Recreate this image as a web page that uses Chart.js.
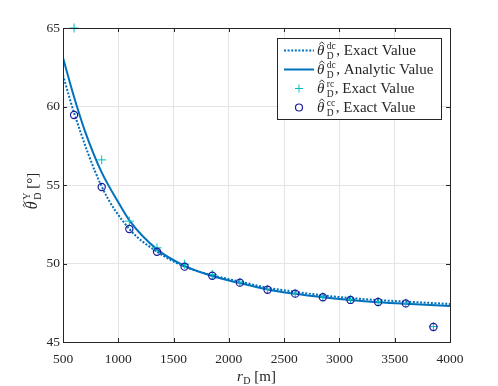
<!DOCTYPE html>
<html><head><meta charset="utf-8">
<script src="https://cdn.jsdelivr.net/npm/chart.js@4"></script>
<style>html,body{margin:0;padding:0;background:#fff}#wrap{width:498px;height:386px}</style>
</head><body><div id="wrap"><canvas id="c" width="498" height="386"></canvas></div>
<script>
// ---- data ----
const xTicks = [500, 1000, 1500, 2000, 2500, 3000, 3500, 4000];
const yTicks = [45, 50, 55, 60, 65];
const rD = [600, 850, 1100, 1350, 1600, 1850, 2100, 2350, 2600, 2850, 3100, 3350, 3600, 3850];
const ccExact = [59.46, 54.87, 52.2, 50.75, 49.8, 49.22, 48.78, 48.33, 48.08, 47.85, 47.68, 47.55, 47.46, 45.96];
const rcExact = [65.0, 56.6, 52.7, 51.0, 49.95, 49.3, 48.8, 48.36, 48.1, 47.87, 47.7, 47.56, 47.47, 45.98];
const dcExactX = [500, 600, 850, 1100, 1350, 1600, 1850, 2100, 2350, 2600, 2850, 3100, 3350, 3600, 3850, 4000];
const dcExactY = [62.0, 59.6, 54.9, 52.2, 50.75, 49.8, 49.25, 48.85, 48.45, 48.2, 47.97, 47.8, 47.67, 47.57, 47.48, 47.42];
const dcAnaX = [500, 600, 700, 850, 1000, 1100, 1350, 1600, 1850, 2100, 2350, 2600, 2850, 3100, 3350, 3600, 4000];
const dcAnaY = [63.1, 60.6, 58.4, 55.8, 53.9, 52.75, 50.9, 49.85, 49.2, 48.75, 48.35, 48.07, 47.85, 47.67, 47.53, 47.43, 47.3];
const legendNames = ['Exact Value', 'Analytic Value', 'Exact Value', 'Exact Value'];
const legendSup = ['dc', 'dc', 'rc', 'cc'];

const pts = (xs, ys) => xs.map((x, i) => ({x, y: ys[i]}));
const SERIF = '"Liberation Serif", "DejaVu Serif", serif';
const BLUE = '#0072BD';
const INK = '#262626';

// runs: {t, font, dy, gap, accent:'hat'|'tilde', accentDy} or {stack, sup, sub, font, supDy, subDy, gap}
function drawRuns(ctx, runs, x, y, align) {
  let w = 0;
  const ws = runs.map(r => {
    ctx.font = r.font;
    let rw = r.stack ? Math.max(ctx.measureText(r.sup).width, ctx.measureText(r.sub).width)
                     : ctx.measureText(r.t).width;
    rw += (r.gap || 0);
    w += rw; return rw;
  });
  let cx = align === 'center' ? x - w / 2 : x;
  ctx.textBaseline = 'alphabetic'; ctx.textAlign = 'left';
  runs.forEach((r, i) => {
    ctx.font = r.font;
    if (r.stack) {
      ctx.fillText(r.sup, cx, y + r.supDy);
      ctx.fillText(r.sub, cx, y + r.subDy);
    } else {
      ctx.fillText(r.t, cx, y + (r.dy || 0));
      if (r.accent) {
        const tw = ctx.measureText(r.t).width;
        const ax = cx + tw / 2 + 1.2, ay = y + r.accentDy;
        ctx.save();
        ctx.strokeStyle = ctx.fillStyle; ctx.lineWidth = 0.9;
        ctx.beginPath();
        if (r.accent === 'hat') {
          ctx.moveTo(ax - 2.6, ay + 1.8); ctx.lineTo(ax, ay - 0.6); ctx.lineTo(ax + 2.6, ay + 1.8);
        } else {
          ctx.moveTo(ax - 3, ay + 0.8);
          ctx.bezierCurveTo(ax - 1.8, ay - 1.4, ax - 0.6, ay - 0.6, ax, ay);
          ctx.bezierCurveTo(ax + 0.6, ay + 0.6, ax + 1.8, ay + 1.4, ax + 3, ay - 0.8);
        }
        ctx.stroke();
        ctx.restore();
      }
    }
    cx += ws[i];
  });
}

const customPlugin = {
  id: 'custom',
  afterDraw(chart) {
    const ctx = chart.ctx;
    const a = chart.chartArea;
    const xs = chart.scales.x, ys = chart.scales.y;
    ctx.save();
    // box
    ctx.strokeStyle = INK; ctx.lineWidth = 1;
    ctx.strokeRect(Math.round(a.left) + 0.5, Math.round(a.top) + 0.5, Math.round(a.right - a.left), Math.round(a.bottom - a.top));
    // inward ticks
    ctx.beginPath();
    xTicks.forEach(v => {
      const px = Math.round(xs.getPixelForValue(v)) + 0.5;
      ctx.moveTo(px, a.bottom); ctx.lineTo(px, a.bottom - 4);
      ctx.moveTo(px, a.top); ctx.lineTo(px, a.top + 4);
    });
    yTicks.forEach(v => {
      const py = Math.round(ys.getPixelForValue(v)) + 0.5;
      ctx.moveTo(a.left, py); ctx.lineTo(a.left + 4, py);
      ctx.moveTo(a.right, py); ctx.lineTo(a.right - 4, py);
    });
    ctx.stroke();

    ctx.fillStyle = INK;
    // x title
    drawRuns(ctx, [
      {t: 'r', font: 'italic 15px ' + SERIF, gap: 0.5},
      {t: 'D', font: '10px ' + SERIF, dy: 3},
      {t: ' [m]', font: '15px ' + SERIF}
    ], (a.left + a.right) / 2, 381, 'center');

    // y title
    ctx.save();
    ctx.translate(37, 191);
    ctx.rotate(-Math.PI / 2);
    drawRuns(ctx, [
      {t: 'θ', font: 'italic 16px ' + SERIF, gap: 1.5, accent: 'tilde', accentDy: -13},
      {stack: true, sup: 'Y', sub: 'D', font: '10px ' + SERIF, supDy: -7, subDy: 4},
      {t: ' [\u00B0]', font: '15px ' + SERIF}
    ], 0, 0, 'center');
    ctx.restore();

    // legend
    const lx = 277.5, ly = 38.5, lw = 164, lh = 81;
    ctx.fillStyle = '#fff';
    ctx.fillRect(lx, ly, lw, lh);
    ctx.strokeStyle = INK; ctx.lineWidth = 1;
    ctx.strokeRect(lx, ly, lw, lh);
    const rows = [50.5, 69.5, 88.5, 107.5];
    chart.data.datasets.forEach((ds, i) => {
      const ry = rows[i];
      ctx.save();
      if (i === 0 || i === 1) {
        ctx.strokeStyle = ds.borderColor; ctx.lineWidth = ds.borderWidth;
        ctx.setLineDash(ds.borderDash || []);
        ctx.beginPath(); ctx.moveTo(284, ry); ctx.lineTo(314, ry); ctx.stroke();
      } else if (i === 2) {
        ctx.strokeStyle = ds.borderColor; ctx.lineWidth = 1;
        ctx.beginPath(); ctx.moveTo(295, ry); ctx.lineTo(303, ry); ctx.moveTo(299, ry - 4); ctx.lineTo(299, ry + 4); ctx.stroke();
      } else {
        ctx.strokeStyle = ds.borderColor; ctx.lineWidth = 1.2;
        ctx.beginPath(); ctx.arc(299, ry, 3.5, 0, Math.PI * 2); ctx.stroke();
      }
      ctx.restore();
      ctx.fillStyle = INK;
      drawRuns(ctx, [
        {t: 'θ', font: 'italic 15px ' + SERIF, gap: 2.5, accent: 'hat', accentDy: -12.5},
        {stack: true, sup: legendSup[i], sub: 'D', font: '9.5px ' + SERIF, supDy: -6, subDy: 3.5, gap: 0.5},
        {t: ', ' + legendNames[i], font: '15px ' + SERIF}
      ], 317, ry + 4.5, 'left');
    });
    ctx.restore();
  }
};

new Chart(document.getElementById('c'), {
  type: 'line',
  data: {
    datasets: [
      {label: 'dc exact', data: pts(dcExactX, dcExactY), borderColor: BLUE, backgroundColor: BLUE,
       borderWidth: 2, borderDash: [2, 1.6], pointRadius: 0, cubicInterpolationMode: 'monotone', order: 4},
      {label: 'dc analytic', data: pts(dcAnaX, dcAnaY), borderColor: BLUE, backgroundColor: BLUE,
       borderWidth: 2, pointRadius: 0, cubicInterpolationMode: 'monotone', order: 3},
      {label: 'rc exact', data: pts(rD, rcExact), borderColor: '#00BFBF', backgroundColor: '#00BFBF',
       showLine: false, pointStyle: 'cross', pointRadius: 4.5, pointBorderWidth: 1, clip: false, order: 2},
      {label: 'cc exact', data: pts(rD, ccExact), borderColor: '#1A1A9A', backgroundColor: 'rgba(0,0,0,0)',
       showLine: false, pointStyle: 'circle', pointRadius: 3.6, pointBorderWidth: 1.2, clip: false, order: 1}
    ]
  },
  options: {
    responsive: false, animation: false, devicePixelRatio: 1,
    layout: {padding: {top: 28, right: 48, left: 0, bottom: 0}},
    plugins: {legend: {display: false}, tooltip: {enabled: false}},
    scales: {
      x: {type: 'linear', min: 500, max: 4000,
        afterBuildTicks: s => { s.ticks = xTicks.map(v => ({value: v})); },
        afterFit: s => { s.height = 44; },
        grid: {color: '#e4e4e4', drawTicks: false}, border: {display: false},
        ticks: {padding: 9, color: INK, font: {family: SERIF, size: 13.5}, maxRotation: 0, autoSkip: false,
                callback: v => String(v)}},
      y: {type: 'linear', min: 45, max: 65,
        afterBuildTicks: s => { s.ticks = yTicks.map(v => ({value: v})); },
        afterFit: s => { s.width = 63; },
        grid: {color: '#e4e4e4', drawTicks: false}, border: {display: false},
        ticks: {padding: 3, color: INK, font: {family: SERIF, size: 13.5}, autoSkip: false,
                callback: v => String(v)}}
    }
  },
  plugins: [customPlugin]
});
</script>
</body></html>
